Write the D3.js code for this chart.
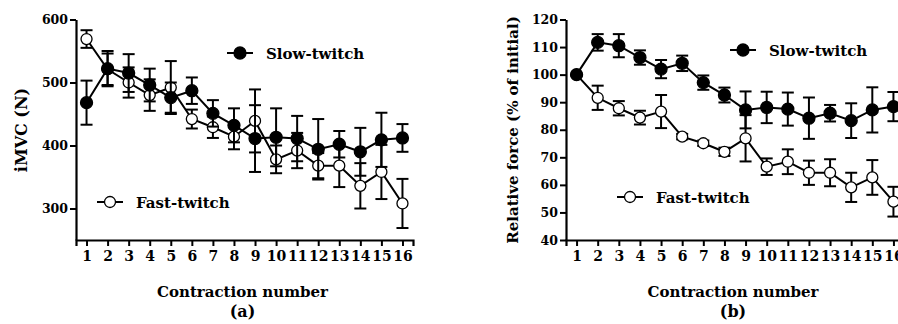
<!DOCTYPE html>
<html lang="en">
<head>
<meta charset="UTF-8">
<title>Contraction force</title>
<script src="https://d3js.org/d3.v7.min.js"></script>
<style>
  body { margin: 0; padding: 0; background: #fff; }
  svg text { font-family: 'DejaVu Serif', serif; font-weight: bold; fill: #000; }
</style>
</head>
<body>
<svg id="chart" width="898" height="324"></svg>
<script>
// contraction numbers
const contractions = d3.range(1, 17);

// panel (a) iMVC (N), mean and SEM
const slowForce = [468, 522, 515, 496, 476, 487, 451, 432, 411, 413, 411, 394, 402, 390, 409, 412];
const slowForceErr = [35, 28, 30, 26, 24, 21, 21, 27, 53, 46, 36, 48, 21, 38, 43, 22];
const fastForce = [569, 521, 500, 480, 492, 442, 429, 414, 439, 378, 392, 368, 368, 336, 358, 308];
const fastForceErr = [14, 25, 24, 25, 42, 15, 17, 20, 50, 22, 28, 20, 34, 36, 43, 39];

// panel (b) relative force (% of initial)
const slowRel = [100, 111.7, 110.5, 106.2, 102, 104.1, 97.1, 92.6, 87.2, 88.1, 87.5, 84.2, 86, 83.3, 87.2, 88.4];
const slowRelErr = [0, 3, 4.2, 2.6, 3.3, 2.8, 2.6, 2.7, 6.7, 5.7, 6, 7.5, 3, 6.3, 8.2, 5.3];
const fastRel = [100, 91.6, 87.8, 84.4, 86.6, 77.5, 75.1, 72, 76.9, 66.6, 68.4, 64.4, 64.4, 59.1, 62.7, 53.9];
const fastRelErr = [0, 4.4, 2.6, 2.5, 6, 1, 1, 1.5, 8.4, 3, 4.5, 4.4, 4.9, 5.3, 6.3, 5.4];

const ticksA = [300, 400, 500, 600];
const ticksB = [40, 50, 60, 70, 80, 90, 100, 110, 120];

const svg = d3.select("#chart");

function panel(opt) {
  const x = d3.scaleLinear().domain([0.5, 16.5]).range([opt.left, opt.right]);
  const y = d3.scaleLinear().domain(opt.yDomain).range([240, 19.5]);
  const g = svg.append("g");

  // axes
  const xa = g.append("g")
    .attr("transform", "translate(0,240)")
    .call(d3.axisBottom(x).tickValues(contractions).tickSize(6).tickPadding(5).tickFormat(d3.format("d")));
  xa.select(".domain").attr("stroke-width", 2.2);
  xa.selectAll(".tick line").attr("stroke-width", 2);
  xa.selectAll("text").style("font-size", "14px").style("font-family", "DejaVu Serif");

  const ya = g.append("g")
    .attr("transform", "translate(" + opt.left + ",0)")
    .call(d3.axisLeft(y).tickValues(opt.ticks).tickSize(6).tickSizeOuter(0).tickPadding(2));
  ya.select(".domain").attr("stroke-width", 2.2);
  ya.selectAll(".tick line").attr("stroke-width", 2);
  ya.selectAll("text").style("font-size", "12.5px").style("font-family", "DejaVu Serif");

  // titles
  g.append("text")
    .attr("x", (opt.left + opt.right) / 2 - 2)
    .attr("y", 297)
    .attr("text-anchor", "middle")
    .style("font-size", "15px")
    .text("Contraction number");
  g.append("text")
    .attr("x", (opt.left + opt.right) / 2 - 2)
    .attr("y", 317)
    .attr("text-anchor", "middle")
    .style("font-size", "16px")
    .text(opt.label);
  g.append("text")
    .attr("text-anchor", "middle")
    .attr("transform", "translate(" + opt.titleX + ",130)rotate(-90)")
    .style("font-size", opt.titleSize)
    .text(opt.yTitle);

  const line = d3.line().x(d => x(d.n)).y(d => y(d.v));

  function series(vals, errs, filled) {
    const pts = vals.map((v, i) => ({ n: contractions[i], v: v, e: errs[i] }));
    const s = g.append("g");
    const bars = s.selectAll(".err").data(pts.filter(p => p.e > 0)).enter().append("g")
      .attr("class", "err")
      .attr("stroke", "#000").attr("stroke-width", 2);
    bars.append("line")
      .attr("x1", d => x(d.n)).attr("x2", d => x(d.n))
      .attr("y1", d => y(d.v + d.e)).attr("y2", d => y(d.v - d.e));
    bars.append("line")
      .attr("x1", d => x(d.n) - 6).attr("x2", d => x(d.n) + 6)
      .attr("y1", d => y(d.v + d.e)).attr("y2", d => y(d.v + d.e));
    bars.append("line")
      .attr("x1", d => x(d.n) - 6).attr("x2", d => x(d.n) + 6)
      .attr("y1", d => y(d.v - d.e)).attr("y2", d => y(d.v - d.e));
    s.append("path").datum(pts)
      .attr("fill", "none").attr("stroke", "#000").attr("stroke-width", 2)
      .attr("d", line);
    s.selectAll("circle").data(pts).enter().append("circle")
      .attr("cx", d => x(d.n))
      .attr("cy", d => y(d.v))
      .attr("r", filled ? 6 : 5.5)
      .attr("fill", filled ? "#000" : "#fff")
      .attr("stroke", "#000").attr("stroke-width", 1.3);
  }

  series(opt.fast, opt.fastErr, false);
  series(opt.slow, opt.slowErr, true);

  // legend
  function legend(lx, ly, filled, name) {
    g.append("line").attr("x1", lx - 13).attr("x2", lx + 13).attr("y1", ly).attr("y2", ly)
      .attr("stroke", "#000").attr("stroke-width", 2);
    g.append("circle").attr("cx", lx).attr("cy", ly).attr("r", filled ? 6 : 5.5)
      .attr("fill", filled ? "#000" : "#fff").attr("stroke", "#000").attr("stroke-width", 1.3);
    g.append("text").attr("x", lx + 26).attr("y", ly + 5.5)
      .style("font-size", "15px").text(name);
  }
  legend(opt.slowLeg[0], opt.slowLeg[1], true, "Slow-twitch");
  legend(opt.fastLeg[0], opt.fastLeg[1], false, "Fast-twitch");
}

panel({
  left: 76, right: 413, yDomain: [250, 600], ticks: ticksA,
  slow: slowForce, slowErr: slowForceErr, fast: fastForce, fastErr: fastForceErr,
  label: "(a)", yTitle: "iMVC (N)", titleX: 27, titleSize: "16px",
  slowLeg: [240, 53], fastLeg: [110, 202]
});

panel({
  left: 566, right: 904, yDomain: [40, 120], ticks: ticksB,
  slow: slowRel, slowErr: slowRelErr, fast: fastRel, fastErr: fastRelErr,
  label: "(b)", yTitle: "Relative force (% of initial)", titleX: 518, titleSize: "15px",
  slowLeg: [743, 50], fastLeg: [630, 197]
});
</script>
</body>
</html>
